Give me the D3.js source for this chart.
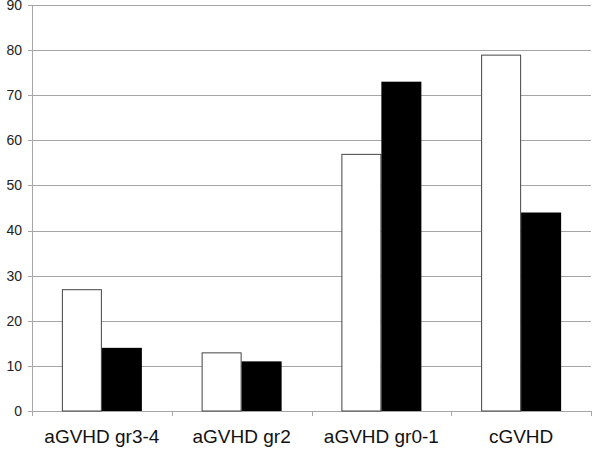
<!DOCTYPE html>
<html>
<head>
<meta charset="utf-8">
<script src="https://cdn.jsdelivr.net/npm/d3@7.9.0/dist/d3.min.js"></script>
<style>
  body { margin: 0; background: #fff; }
  svg { display: block; font-family: "Liberation Sans", Arial, sans-serif; }
</style>
</head>
<body>
<svg id="chart" width="592" height="449"></svg>
<script>
const categories = ['aGVHD gr3-4', 'aGVHD gr2', 'aGVHD gr0-1', 'cGVHD'];
const whiteValues = [27, 13, 57, 79];
const blackValues = [14, 11, 73, 44];
const yTicks = [0, 10, 20, 30, 40, 50, 60, 70, 80, 90];

const svg = d3.select('#chart');
const margin = { left: 32, right: 1, top: 5, bottom: 38 };
const width = 592, height = 449;

const x = d3.scaleBand()
    .domain(categories)
    .range([margin.left, width - margin.right]);

const y = d3.scaleLinear()
    .domain([0, 90])
    .range([height - margin.bottom, margin.top]);

// grid lines
svg.append('g')
    .selectAll('line')
    .data(yTicks)
    .join('line')
    .attr('x1', margin.left - 4)
    .attr('x2', width - margin.right)
    .attr('y1', d => Math.round(y(d)) + 0.5)
    .attr('y2', d => Math.round(y(d)) + 0.5)
    .attr('stroke', '#a6a6a6')
    .attr('stroke-width', 1);

// y labels
svg.append('g')
    .selectAll('text')
    .data(yTicks)
    .join('text')
    .attr('x', 22)
    .attr('y', d => y(d))
    .attr('dy', '0.35em')
    .attr('text-anchor', 'end')
    .attr('font-size', 14)
    .attr('fill', '#222')
    .text(d => d);

// y axis line
svg.append('line')
    .attr('x1', margin.left + 0.5)
    .attr('x2', margin.left + 0.5)
    .attr('y1', y(90))
    .attr('y2', y(0))
    .attr('stroke', '#a6a6a6');

// x tick marks at band edges
const edges = categories.map(c => x(c)).concat([x(categories[categories.length - 1]) + x.bandwidth()]);
svg.append('g')
    .selectAll('line')
    .data(edges)
    .join('line')
    .attr('x1', d => Math.round(d) + 0.5)
    .attr('x2', d => Math.round(d) + 0.5)
    .attr('y1', y(0))
    .attr('y2', y(0) + 5)
    .attr('stroke', '#a6a6a6');

const barW = 40;
const groups = svg.append('g')
    .selectAll('g')
    .data(categories)
    .join('g');

groups.append('rect')
    .attr('x', (d) => x(d) + x.bandwidth() / 2 - barW + 0.5)
    .attr('y', (d, i) => y(whiteValues[i]) + 0.5)
    .attr('width', barW - 1)
    .attr('height', (d, i) => y(0) - y(whiteValues[i]) - 0.5)
    .attr('fill', '#fff')
    .attr('stroke', '#444')
    .attr('stroke-width', 1);

groups.append('rect')
    .attr('x', (d) => x(d) + x.bandwidth() / 2)
    .attr('y', (d, i) => y(blackValues[i]))
    .attr('width', barW)
    .attr('height', (d, i) => y(0) - y(blackValues[i]))
    .attr('fill', '#000');

// x labels
svg.append('g')
    .selectAll('text')
    .data(categories)
    .join('text')
    .attr('x', d => x(d) + x.bandwidth() / 2)
    .attr('y', 443)
    .attr('text-anchor', 'middle')
    .attr('font-size', 19)
    .attr('fill', '#111')
    .text(d => d);
</script>
</body>
</html>
